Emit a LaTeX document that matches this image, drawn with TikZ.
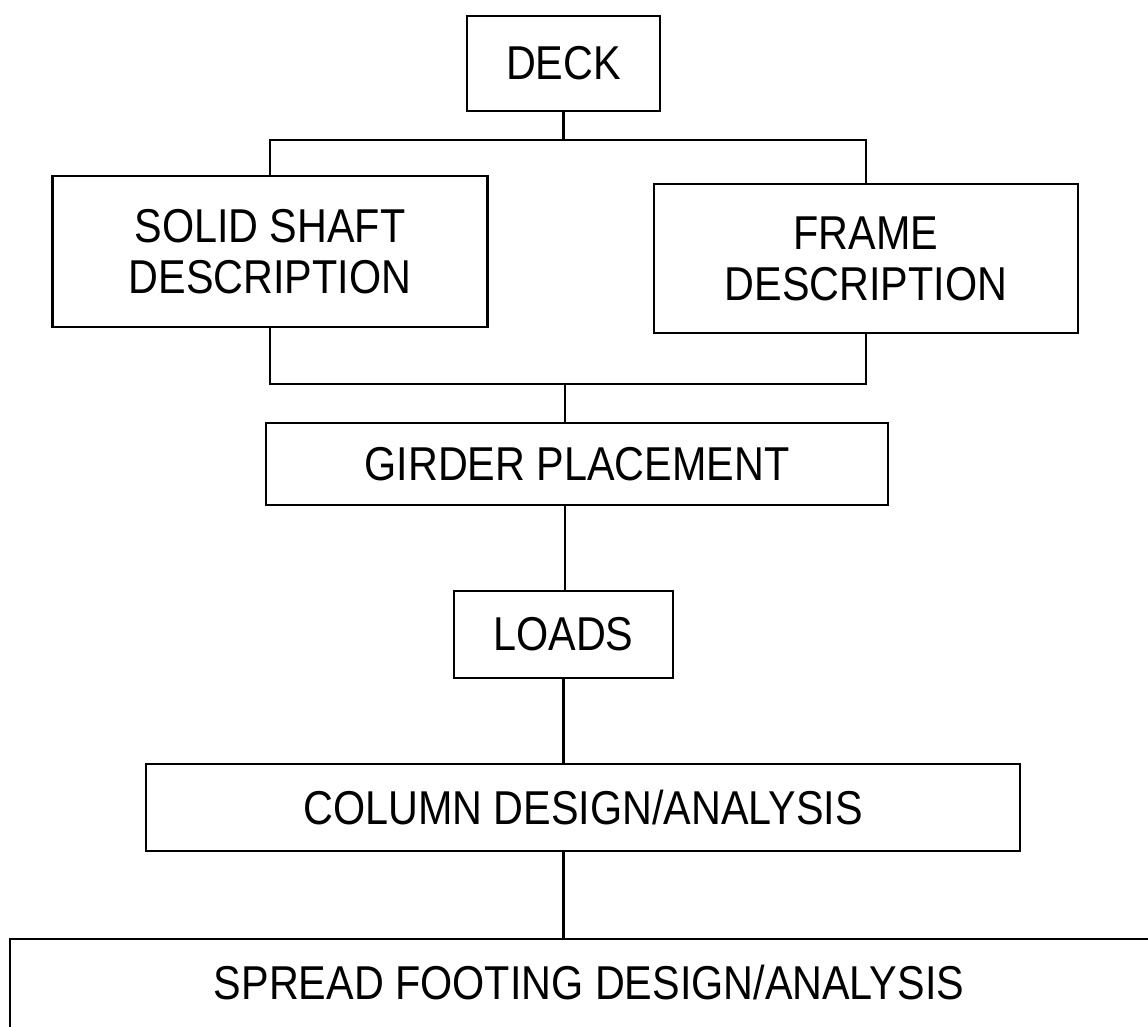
\documentclass[tikz,border=0pt]{standalone}
\usepackage{fontspec}
\setmainfont[FakeStretch=0.87]{Liberation Sans}
\begin{document}
\begin{tikzpicture}[x=1pt,y=-1pt,
  box/.style={draw=black, line width=2.7pt, inner sep=0pt, outer sep=0pt,
    align=center, font=\fontsize{47.5}{51}\selectfont},
  conn/.style={draw=black, line width=2.7pt}]
\useasboundingbox (0,0) rectangle (1148,1026);
\clip (0,0) rectangle (1148,1026);
\fill[white] (0,0) rectangle (1148,1026);
\node[box, minimum width=193pt, minimum height=95pt] (deck) at (563.5,63.5) {DECK};
\node[box, minimum width=435pt, minimum height=151pt] (solid) at (270,251.5) {SOLID SHAFT\\DESCRIPTION};
\node[box, minimum width=424pt, minimum height=149pt] (frame) at (866,258.5) {FRAME\\DESCRIPTION};
\node[box, minimum width=622pt, minimum height=82pt] (girder) at (577,464) {GIRDER PLACEMENT};
\node[box, minimum width=219pt, minimum height=87pt] (loads) at (563.5,634.5) {LOADS};
\node[box, minimum width=874pt, minimum height=87pt] (column) at (583,807.5) {COLUMN DESIGN/ANALYSIS};
\node[box, minimum width=1158pt, minimum height=120pt, anchor=north west] (spread) at (10,939) {};
\node[font=\fontsize{47.5}{51}\selectfont, inner sep=0pt] (spreadtxt) at (589,983) {SPREAD FOOTING DESIGN/ANALYSIS};
\coordinate (j1) at (563.5,140);
\coordinate (j2) at (565,384);
\draw[conn] (deck.south) -- (j1);
\draw[conn] (solid.north) |- (j1) -| (frame.north);
\draw[conn] (solid.south) |- (j2) -| (frame.south);
\draw[conn] (j2) -- (j2 |- girder.north);
\draw[conn] (j2 |- girder.south) -- (j2 |- loads.north);
\draw[conn] (loads.south) -- (loads.south |- column.north);
\draw[conn] (loads.south |- column.south) -- (loads.south |- spread.north);
\end{tikzpicture}
\end{document}
